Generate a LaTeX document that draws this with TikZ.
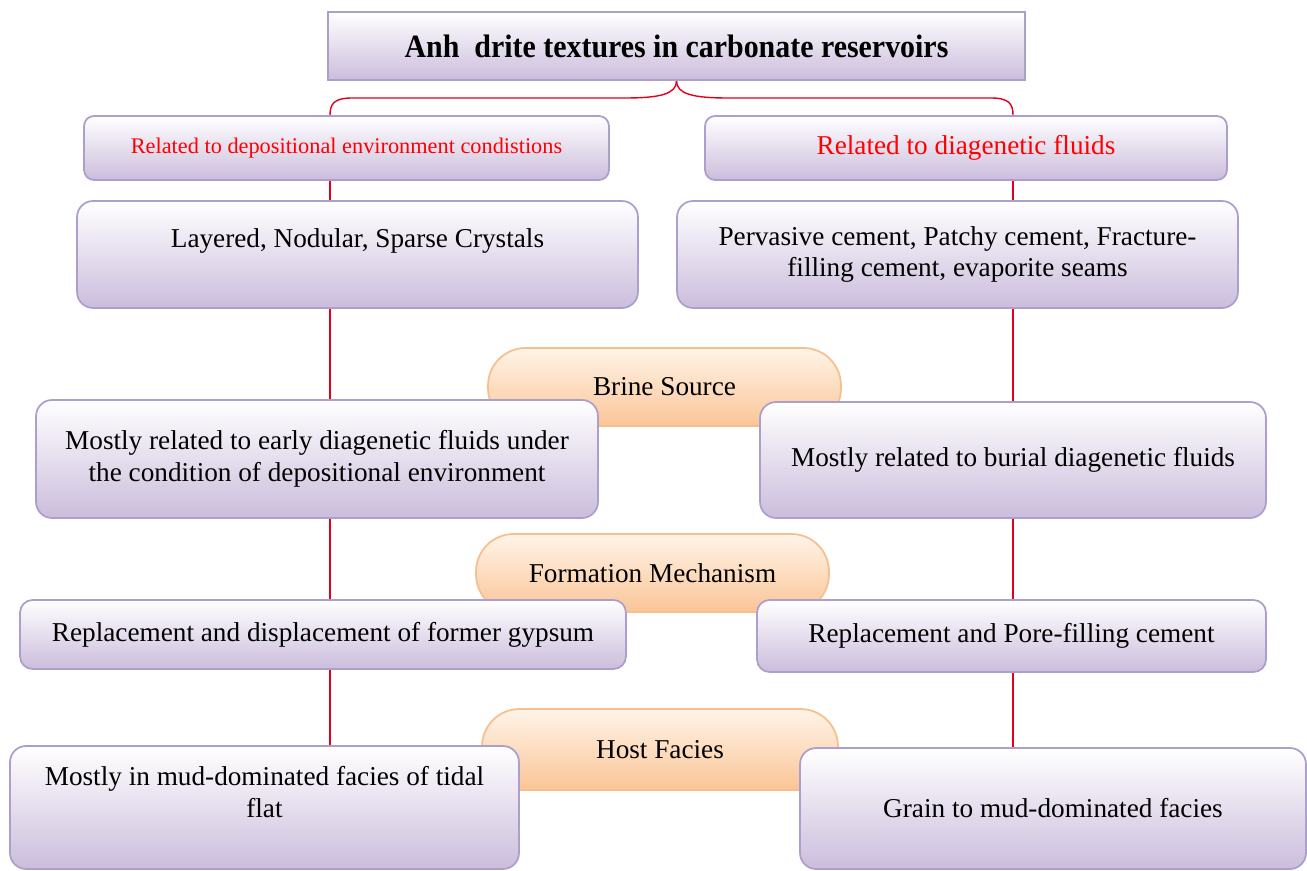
\documentclass[tikz,border=0pt]{standalone}
\usepackage{fontspec}
\setmainfont{Liberation Serif}
\newfontfamily\titlefont{Liberation Serif}[FakeStretch=0.92]
\usetikzlibrary{backgrounds}

\definecolor{boxline}{HTML}{AD9FCB}
\definecolor{boxlow}{HTML}{CBBDDC}
\definecolor{ovalline}{HTML}{F7BF8E}
\definecolor{ovaltop}{HTML}{FFF4E8}
\definecolor{ovallow}{HTML}{FAC597}
\definecolor{linkred}{HTML}{E0001B}

\begin{document}
\begin{tikzpicture}[x = 0.02cm, y = -0.02cm,
	box/.style = {draw = boxline, line width = 1pt, top color = white, bottom color = boxlow, rounded corners = 0.32cm, align = center, font = \fontsize{15.5}{18.2}\selectfont},
	oval/.style = {draw = ovalline, line width = 1pt, top color = ovaltop, bottom color = ovallow, rounded corners = 0.75cm, minimum width = 7.06cm, minimum height = 1.56cm, font = \fontsize{15.5}{18.2}\selectfont},
	link/.style = {linkred, line width = 0.8pt}]
				%	page frame
				\useasboundingbox (0, 0) rectangle (1307, 871);
				
				%	title and headers
				\node[box, rounded corners = 0pt, minimum width = 13.94cm, minimum height = 1.36cm, font = \titlefont\fontsize{18.5}{22}\selectfont\bfseries] (title) at (676.5, 46) {Anh\ \ drite textures in carbonate reservoirs};
				\node[box, rounded corners = 0.2cm, minimum width = 10.5cm, minimum height = 1.28cm, text = red, font = \fontsize{12.7}{15}\selectfont] (depo) at (346.5, 148) {Related to depositional environment condistions};
				\node[box, rounded corners = 0.2cm, minimum width = 10.44cm, minimum height = 1.28cm, text = red] (diag) at (966, 148) {Related to diagenetic fluids};
				
				%	ovals, behind the boxes
				\node[oval] (brine) at (664.5, 387) {Brine Source};
				\node[oval] (mech) at (652.5, 573) {Formation Mechanism};
				\node[oval, minimum width = 7.12cm, minimum height = 1.62cm] (host) at (660, 749.5) {Host Facies};
				
				%	left column
				\node[box, minimum width = 11.22cm, minimum height = 2.14cm] (texL) at (357.5, 254.5) {Layered, Nodular, Sparse Crystals\\ \mbox{}};
				\node[box, minimum width = 11.24cm, minimum height = 2.36cm] (brineL) at (317, 459) {Mostly related to early diagenetic fluids under\\the condition of depositional environment};
				\node[box, rounded corners = 0.25cm, minimum width = 12.12cm, minimum height = 1.38cm] (mechL) at (323, 634.5) {Replacement and displacement of former gypsum};
				\node[box, minimum width = 10.18cm, minimum height = 2.46cm] (facL) at (264.5, 807.5) {Mostly in mud-dominated facies of tidal\\flat\\ \mbox{}};
				
				%	right column
				\node[box, minimum width = 11.22cm, minimum height = 2.14cm] (texR) at (957.5, 254.5) {Pervasive cement, Patchy cement, Fracture-\\filling cement, evaporite seams};
				\node[box, minimum width = 10.12cm, minimum height = 2.32cm] (brineR) at (1013, 460) {Mostly related to burial diagenetic fluids};
				\node[box, rounded corners = 0.25cm, minimum width = 10.18cm, minimum height = 1.44cm] (mechR) at (1011.5, 636) {Replacement and Pore-filling cement};
				\node[box, minimum width = 10.12cm, minimum height = 2.42cm] (facR) at (1053, 808.5) {Grain to mud-dominated facies};
				
				%	red links
				\begin{pgfonlayer}{background}
				\coordinate (lineL) at (330, 0);
				\coordinate (lineR) at (1013, 0);
				\draw[link] (title.south) .. controls (676.5, 94) and (660, 98) .. (625, 98) -- (352, 98) .. controls (334, 98) and (330, 104) .. (depo.north -| lineL);
				\draw[link] (title.south) .. controls (676.5, 94) and (693, 98) .. (728, 98) -- (991, 98) .. controls (1009, 98) and (1013, 104) .. (diag.north -| lineR);
				\draw[link] (depo.south -| lineL) -- (facL.north -| lineL);
				\draw[link] (diag.south -| lineR) -- (facR.north -| lineR);
				\end{pgfonlayer}
				\end{tikzpicture}
\end{document}
